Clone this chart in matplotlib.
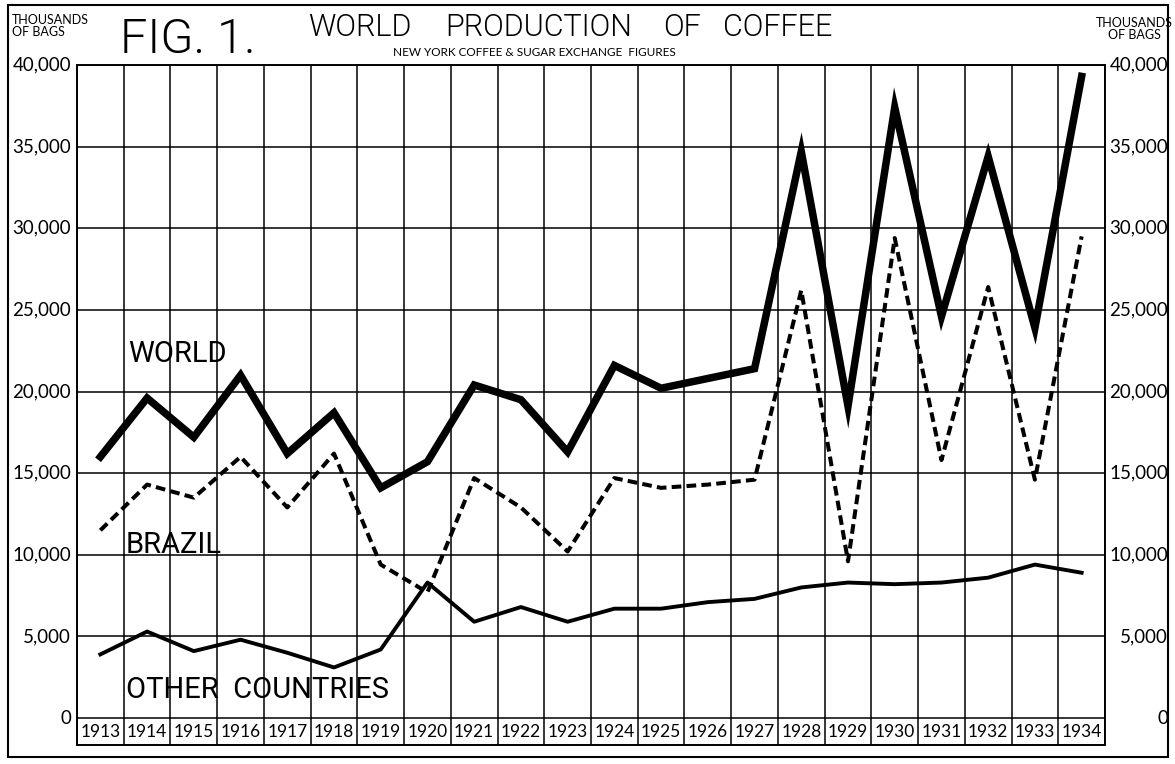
import matplotlib
matplotlib.use("Agg")
import matplotlib.pyplot as plt
from matplotlib.patches import Rectangle

# World coffee production, thousands of bags
years = list(range(1913, 1935))
world = [16000, 19600, 17200, 21000, 16200, 18700, 14100, 15700, 20400, 19500, 16300,
         21600, 20200, 20800, 21400, 34700, 19100, 37400, 24600, 34400, 23900, 39300]
brazil = [11500, 14300, 13500, 16000, 12900, 16200, 9400, 7700, 14700, 12900, 10200,
          14700, 14100, 14300, 14600, 26200, 9600, 29400, 15800, 26400, 14600, 29500]
other = [3900, 5300, 4100, 4800, 4000, 3100, 4200, 8300, 5900, 6800, 5900,
         6700, 6700, 7100, 7300, 8000, 8300, 8200, 8300, 8600, 9400, 8900]
y_ticks = [0, 5000, 10000, 15000, 20000, 25000, 30000, 35000, 40000]
y_labels = ["0", "5,000", "10,000", "15,000", "20,000", "25,000", "30,000", "35,000", "40,000"]

plt.rcParams["font.family"] = ["Lato", "DejaVu Sans"]
thin = ["Roboto", "DejaVu Sans"]

W, H = 1175, 764
fig = plt.figure(figsize=(W / 100, H / 100), dpi=100)
ax = fig.add_axes([77 / W, 1 - 745 / H, 1028 / W, 680 / H])

year_row = 1650  # height of the boxed year row below zero
ax.set_xlim(years[0] - 0.5, years[-1] + 0.5)
ax.set_ylim(-year_row, 40000)

# grid
for x in range(years[0], years[-1] + 2):
    ax.axvline(x - 0.5, color="black", lw=1.1)
for y in y_ticks:
    ax.axhline(y, color="black", lw=1.1)

# data lines
ax.plot(years, world, color="black", lw=5.4, solid_joinstyle="miter")
ax.plot(years, brazil, color="black", lw=2.9, dashes=(2.4, 1.3))
ax.plot(years, other, color="black", lw=2.8)

# year labels in the boxed row
for yr in years:
    ax.text(yr, -year_row / 2, str(yr), ha="center", va="center", fontsize=12.5)

ax.set_xticks([])
ax.set_yticks([])
for s in ax.spines.values():
    s.set_linewidth(1.4)


def fx(px):
    return px / W


def fy(py):
    return 1 - py / H


# y tick labels on both sides
for y, lab in zip(y_ticks, y_labels):
    yy = ax.transData.transform((0, y))[1] / H
    fig.text(fx(71), yy, lab, ha="right", va="center", fontsize=13.5)
    fig.text(fx(1168), yy, lab, ha="right", va="center", fontsize=13.5)

# series labels
ax.text(1913.6, 22300, "WORLD", fontsize=21, va="center", family=thin)
ax.text(1913.55, 10600, "BRAZIL", fontsize=21, va="center", family=thin)
ax.text(1913.55, 1700, "OTHER  COUNTRIES", fontsize=21, va="center", family=thin)

# titles
fig.text(fx(12), fy(26), "THOUSANDS\nOF BAGS", fontsize=9, va="center",
         ha="left", linespacing=0.95)
fig.text(fx(1134), fy(29), "THOUSANDS\nOF BAGS", fontsize=9, va="center",
         ha="center", multialignment="center", linespacing=0.95)
fig.text(fx(120), fy(40), "FIG. 1.", fontsize=35, va="center", ha="left",
         family=thin, fontweight=300)
for word, x0 in [("WORLD", 308), ("PRODUCTION", 445), ("OF", 663), ("COFFEE", 723)]:
    fig.text(fx(x0), fy(27), word, fontsize=22, va="center", ha="left",
             family=thin, fontweight=300)
fig.text(fx(393), fy(53), "NEW YORK COFFEE & SUGAR EXCHANGE  FIGURES",
         fontsize=8.5, va="center", ha="left")

# outer frame
fig.patches.append(Rectangle((fx(8), fy(757)), 1160 / W, 752 / H,
                             transform=fig.transFigure, fill=False, lw=1.5,
                             edgecolor="black"))

fig.savefig("out.png", dpi=100)
